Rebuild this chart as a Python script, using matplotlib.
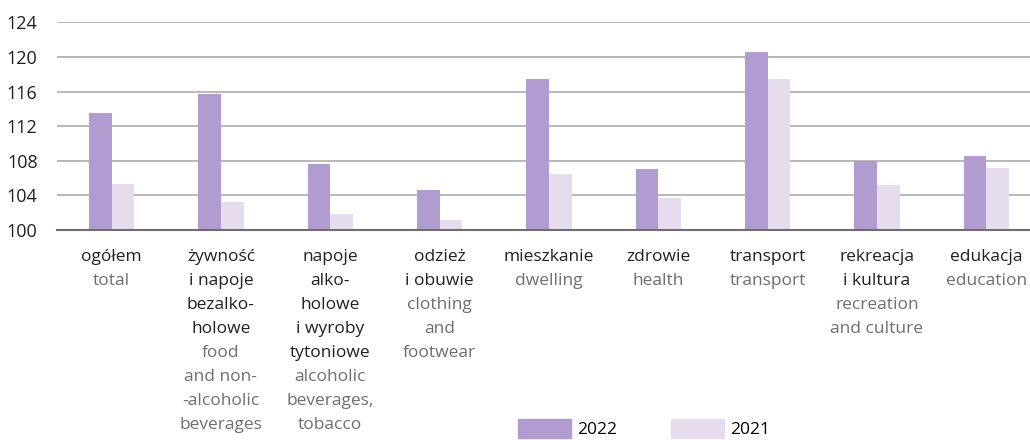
import numpy as np
import matplotlib.pyplot as plt
from matplotlib.patches import Patch
from matplotlib.transforms import blended_transform_factory

# data
labels_pl = [
    ["ogółem"],
    ["żywność", "i napoje", "bezalko-", "holowe"],
    ["napoje", "alko-", "holowe", "i wyroby", "tytoniowe"],
    ["odzież", "i obuwie"],
    ["mieszkanie"],
    ["zdrowie"],
    ["transport"],
    ["rekreacja", "i kultura"],
    ["edukacja"],
]
labels_en = [
    ["total"],
    ["food", "and non-", "-alcoholic", "beverages"],
    ["alcoholic", "beverages,", "tobacco"],
    ["clothing", "and", "footwear"],
    ["dwelling"],
    ["health"],
    ["transport"],
    ["recreation", "and culture"],
    ["education"],
]
values_2022 = [113.5, 115.7, 107.6, 104.6, 117.4, 107.0, 120.6, 108.0, 108.5]
values_2021 = [105.3, 103.2, 101.9, 101.1, 106.5, 103.7, 117.4, 105.2, 107.2]
yticks = [100, 104, 108, 112, 116, 120, 124]

c2022 = "#b09cce"
c2021 = "#e5dcee"
c_pl = "#231f20"
c_en = "#6d6e71"
fs = 12.5

plt.rcParams["font.family"] = ["Open Sans", "DejaVu Sans"]
W, H = 1030, 440
fig = plt.figure(figsize=(W / 100, H / 100), dpi=100)
ax = fig.add_axes([57 / W, (H - 230) / H, (W - 57) / W, (230 - 22.3) / H])

x = np.arange(len(values_2022))
bw = 0.207
ax.bar(x - bw / 2, np.array(values_2022) - 100, bw, bottom=100, color=c2022, zorder=3)
ax.bar(x + bw / 2, np.array(values_2021) - 100, bw, bottom=100, color=c2021, zorder=3)

ax.set_xlim(-0.5, 8.4)
ax.set_ylim(100, 124)
ax.set_yticks(yticks)
ax.set_yticklabels([str(v) for v in yticks], fontsize=13, color=c_pl)
ax.tick_params(axis="y", length=0, pad=14)
ax.set_xticks([])
ax.grid(axis="y", color="#a6a6a6", linewidth=1.1, zorder=0)
for s in ["top", "right", "left"]:
    ax.spines[s].set_visible(False)
ax.spines["bottom"].set_color("#6d6e71")
ax.spines["bottom"].set_linewidth(1.5)
ax.spines["bottom"].set_zorder(4)

# two-language category labels under the bars
trans = blended_transform_factory(ax.transData, fig.transFigure)
first_line, step = 256.7, 24.0
for i, (pl, en) in enumerate(zip(labels_pl, labels_en)):
    for k, line in enumerate(pl + en):
        y = 1 - (first_line + step * k) / H
        ax.text(i, y, line, transform=trans, ha="center", va="center",
                fontsize=fs, color=c_pl if k < len(pl) else c_en, clip_on=False)

handles = [Patch(color=c2022, label="2022"), Patch(color=c2021, label="2021")]
fig.legend(handles=handles, loc="upper left", bbox_to_anchor=(518 / W, 1 - 419 / H),
           ncol=2, frameon=False, fontsize=fs, handlelength=3.05, handleheight=1.3,
           handletextpad=0.35, columnspacing=3.1, borderpad=0, borderaxespad=0)

fig.savefig("out.png", dpi=100)
